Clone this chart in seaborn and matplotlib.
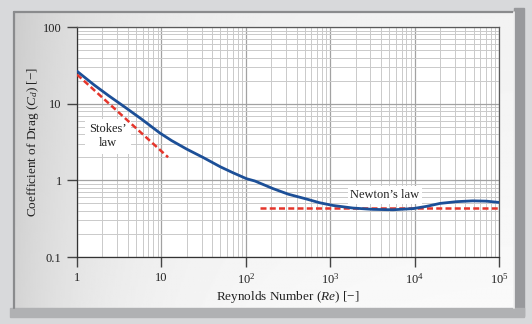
import numpy as np
import matplotlib
matplotlib.use("Agg")
import matplotlib.pyplot as plt
import seaborn as sns
from matplotlib.patches import Rectangle
from matplotlib.ticker import LogLocator, NullFormatter

# ---- data ----
re_curve = [1, 1.6, 2.35, 3.7, 5.8, 9.6, 13.2, 20, 31.4, 50, 70, 102, 128, 170, 210,
            318, 525, 750, 1080, 1860, 3200, 5550, 9600, 13900, 20000, 31500,
            49000, 71000, 100000]
cd_curve = [26.5, 17.5, 12.8, 9.0, 6.3, 4.14, 3.3, 2.55, 1.98, 1.5, 1.26, 1.05, 0.98,
            0.86, 0.78, 0.66, 0.57, 0.51, 0.47, 0.435, 0.418, 0.413, 0.428, 0.458,
            0.50, 0.527, 0.54, 0.535, 0.515]
re_stokes = [1, 12]
cd_stokes = [24, 2]
re_newton = [147, 100000]
cd_newton = [0.44, 0.44]
x_ticks = [1, 10, 100, 1000, 10000, 100000]
x_tick_labels = ["1", "10", "$10^2$", "$10^3$", "$10^4$", "$10^5$"]
y_ticks = [0.1, 1, 10, 100]
y_tick_labels = ["0.1", "1", "10", "100"]

sns.set_theme(style="white")
plt.rcParams['font.family'] = ['Liberation Serif', 'DejaVu Serif']
plt.rcParams['mathtext.fontset'] = 'custom'
plt.rcParams['mathtext.rm'] = 'Liberation Serif'
plt.rcParams['mathtext.it'] = 'Liberation Serif:italic'

W, H = 532, 324
fig = plt.figure(figsize=(W / 100, H / 100), dpi=100)
fig.patch.set_facecolor('#d8d9db')

# ---- background frame ----
bg = fig.add_axes([0, 0, 1, 1], zorder=-10)
bg.set_xlim(0, W)
bg.set_ylim(H, 0)
bg.axis('off')
gx = np.linspace(0, 1, 300)
gy = np.linspace(0, 1, 200)
GX, GY = np.meshgrid(gx, gy)
img = 0.80 + 0.15 * (1 - np.exp(-5 * GX)) + 0.03 * GY
img = np.clip(img, 0, 1)
bg.imshow(img, extent=(14, 514, 308, 12), cmap='gray', vmin=0, vmax=1,
          aspect='auto', origin='upper', zorder=1)
bg.add_patch(Rectangle((514, 8), 10, 308, color='#98999c', zorder=2))
bg.add_patch(Rectangle((10, 308), 514, 9, color='#b0b1b3', zorder=2))
bg.plot([14, 14], [12, 308], color='#8a8b8d', lw=1.6, zorder=3)
bg.plot([14, 514], [12, 12], color='#8a8b8d', lw=1.6, zorder=3)
bg.plot([514, 514], [12, 308], color='#f4f4f4', lw=1.2, zorder=3)

# ---- main axes ----
ax = fig.add_axes([77 / W, 1 - 257 / H, (499 - 77) / W, (257 - 27) / H])
ax.set_facecolor('white')
ax.set_xscale('log')
ax.set_yscale('log')

sns.lineplot(x=re_curve, y=cd_curve, ax=ax, color='#1c4f97', lw=2.0, zorder=4)
sns.lineplot(x=re_stokes, y=cd_stokes, ax=ax, color='#e5352b', lw=1.8,
             linestyle=(0, (2.4, 1.3)), zorder=3.5)
sns.lineplot(x=re_newton, y=cd_newton, ax=ax, color='#e5352b', lw=1.8,
             linestyle=(0, (2.4, 1.3)), zorder=3.5)

ax.set_xlim(1, 1e5)
ax.set_ylim(0.1, 100)
ax.set_xticks(x_ticks, x_tick_labels)
ax.set_yticks(y_ticks, y_tick_labels)
ax.xaxis.set_minor_locator(LogLocator(base=10, subs=range(2, 10), numticks=20))
ax.yaxis.set_minor_locator(LogLocator(base=10, subs=range(2, 10), numticks=20))
ax.xaxis.set_minor_formatter(NullFormatter())
ax.yaxis.set_minor_formatter(NullFormatter())
ax.set_axisbelow(True)
ax.grid(True, which='major', color='#a2a2a2', lw=0.9)
ax.grid(True, which='minor', color='#cacaca', lw=0.7)
ax.tick_params(which='major', bottom=True, left=True, direction='out', length=7,
               width=1, color='#444444', labelsize=9, labelcolor='#222222', pad=4)
ax.tick_params(which='minor', length=0)
for s in ax.spines.values():
    s.set_color('#5a5a5a')
    s.set_linewidth(0.9)
ax.spines['left'].set_color('#333333')
ax.spines['bottom'].set_color('#333333')

ax.text(2.33, 3.75, "Stokes’\nlaw", ha='center', va='center', fontsize=9,
        color='#222222', linespacing=1.25, zorder=3,
        bbox=dict(facecolor='white', edgecolor='none', pad=3))
ax.text(4460, 0.64, "Newton’s law", ha='center', va='center', fontsize=9,
        color='#222222', zorder=3,
        bbox=dict(facecolor='white', edgecolor='none', pad=2))

fig.text(288 / W, 1 - 297 / H, "Reynolds Number ($Re$) [−]", ha='center',
         va='center', fontsize=9.5, color='#222222')
fig.text(33 / W, 1 - 142 / H, "Coefficient of Drag ($C_d$) [−]", ha='center',
         va='center', rotation=90, fontsize=9.5, color='#222222')

fig.savefig("out.png", dpi=100, facecolor=fig.get_facecolor())
